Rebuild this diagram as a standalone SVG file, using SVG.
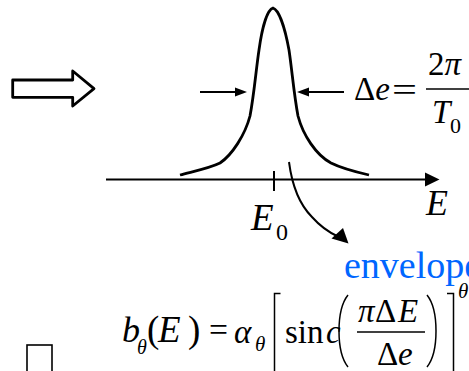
<svg xmlns="http://www.w3.org/2000/svg" width="469" height="371" viewBox="0 0 469 371">
<style>
.ln{fill:none;stroke:#000;stroke-width:2;stroke-linecap:butt}
.thick{fill:none;stroke:#000;stroke-width:2.8;stroke-linejoin:round}
.hd{fill:#000;stroke:none}
.t{font-family:"Liberation Serif","Times New Roman",serif;fill:#000}
.i{font-style:italic}
.dl{fill:none;stroke:#000;stroke-width:1.5}
</style>
<rect width="469" height="371" fill="#fff"/>
<g id="hollow-arrow">
<polygon class="thick" points="12.7,80 72.7,80 72.7,71 94,88.7 72.7,106 72.7,97.3 12.7,97.3"/>
</g>
<g id="peak">
<path class="thick" d="M180,175 C195,171 210,168 220,163 C232,155 245,135 250,116 C254,95 256,70 259,50 C262,28 267,10 273,8 C279,10 285,28 289,50 C292,70 294,95 298,116 C303,135 316,155 331,163 C343,169 356,172 369,175"/>
</g>
<g id="connectors">
<line class="ln" x1="106" y1="179.5" x2="426" y2="179.5"/>
<polygon class="hd" points="439.5,179.5 425,172.5 425,186.5"/>
<line class="ln" x1="274" y1="171" x2="274" y2="191"/>
<line class="ln" x1="200" y1="92" x2="237" y2="92"/>
<polygon class="hd" points="247,92 235,87.5 235,96.5"/>
<line class="ln" x1="344" y1="92" x2="307" y2="92"/>
<polygon class="hd" points="297,92 309,87.5 309,96.5"/>
<path class="ln" d="M289,162 C292,185 300,205 312,217 C320,226 328,232 338,236.5"/>
<polygon class="hd" points="348.5,243.5 331.5,238.5 343,228"/>
</g>
<g id="width-label">
<text class="t" x="354" y="100" font-size="33">Δ<tspan class="i">e</tspan></text>
<text class="t" x="392" y="101" font-size="33" textLength="25" lengthAdjust="spacingAndGlyphs">=</text>
<text class="t" x="428" y="75" font-size="33">2<tspan class="i">π</tspan></text>
<line class="dl" x1="426" y1="89" x2="469" y2="89"/>
<text class="t i" x="432" y="123" font-size="33">T</text>
<text class="t" x="450" y="133" font-size="22">0</text>
</g>
<g id="axis-labels">
<text class="t i" x="251" y="230" font-size="37">E</text>
<text class="t" x="276" y="240" font-size="24">0</text>
<text class="t i" x="426" y="215" font-size="36">E</text>
</g>
<g id="envelope-label">
<text class="t" x="344" y="278" font-size="38" style="fill:#0066ff">envelope</text>
</g>
<g id="formula">
<text class="t i" x="122" y="342" font-size="36">b</text>
<text class="t i" x="137" y="354" font-size="20">θ</text>
<text class="t" x="147" y="342" font-size="37">(</text>
<text class="t i" x="158" y="342" font-size="37">E</text>
<text class="t" x="188" y="342" font-size="37">)</text>
<text class="t" x="209" y="341" font-size="33" textLength="19" lengthAdjust="spacingAndGlyphs">=</text>
<text class="t i" x="234" y="343" font-size="33">α</text>
<text class="t i" x="255" y="351" font-size="21">θ</text>
<path class="dl" d="M280.5,293.5 H274.5 V372"/>
<text class="t" x="285" y="343" font-size="33">sin</text>
<text class="t i" x="326" y="343" font-size="33">c</text>
<path class="dl" d="M348,295 C336,310 336,352 348,367"/>
<text class="t i" x="358" y="322" font-size="33">π</text>
<text class="t" x="375" y="322" font-size="33">Δ</text>
<text class="t i" x="398" y="322" font-size="33">E</text>
<line class="dl" x1="357" y1="332" x2="425" y2="332"/>
<text class="t" x="377" y="365" font-size="33">Δ</text>
<text class="t i" x="398" y="365" font-size="33">e</text>
<path class="dl" d="M427,295 C439,310 439,352 427,367"/>
<path class="dl" d="M447,293.5 H453.5 V372"/>
<text class="t i" x="458" y="298" font-size="21">θ</text>
</g>
<g id="box">
<rect x="27" y="345" width="25" height="30" fill="none" stroke="#000" stroke-width="1.6"/>
</g>
</svg>
